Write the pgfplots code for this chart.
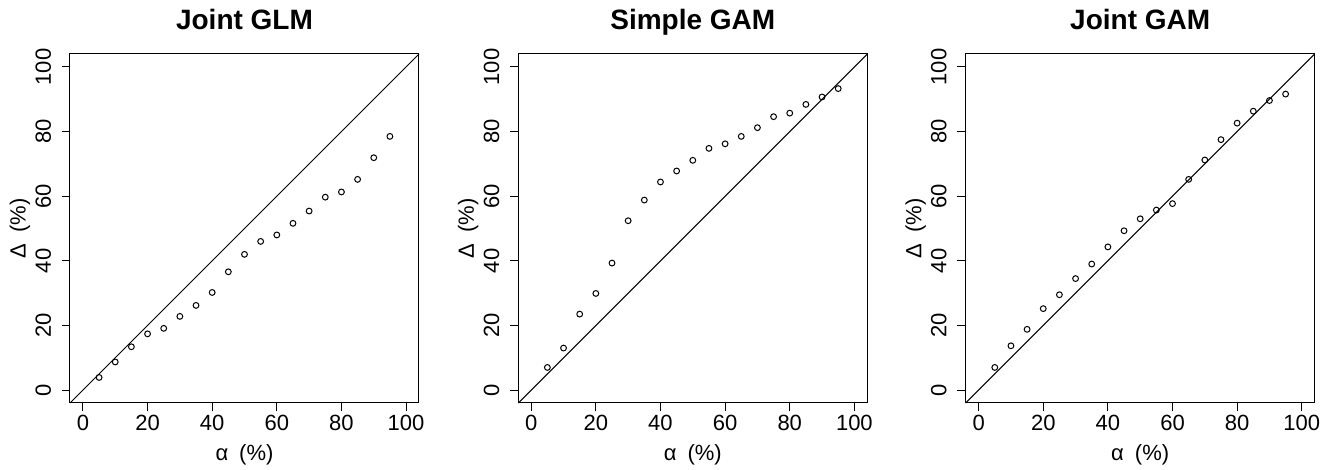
\documentclass[border=0pt]{standalone}
\usepackage{pgfplots}
\pgfplotsset{compat=1.18}
\usepackage{fontspec}
\setmainfont{Liberation Sans}
\pgfplotsset{
  rpanel/.style={
    scale only axis, width=174.5pt, height=174.5pt,
    anchor=south west,
    xmin=-4, xmax=104, ymin=-4, ymax=104,
    xtick={0,20,...,100}, ytick={0,20,...,100},
    xtick pos=left, ytick pos=left, tick align=outside,
    major tick length=4.2pt,
    axis line style={line width=0.5pt},
    every tick/.style={black, line width=0.5pt},
    /pgf/number format/assume math mode=true,
    tick label style={font=\fontsize{11}{13}\selectfont, inner sep=0pt},
    xticklabel style={anchor=north},
    yticklabel style={rotate=90, anchor=south},
    xticklabel shift=1.9pt,
    yticklabel shift=5.1pt,
    clip=false,
  },
  pts/.style={only marks, mark=o, mark size=1.45pt, mark options={line width=0.5pt}, black},
  diag/.style={black, line width=0.5pt, no marks},
}
\newcommand{\paneltext}[1]{%
  \node[font=\bfseries\fontsize{14}{16}\selectfont, anchor=base, inner sep=0pt]
    at ([yshift=12pt]rel axis cs:0.5,1) {#1};
  \node[font=\fontsize{11}{13}\selectfont, anchor=center, inner sep=0pt]
    at ([yshift=-26pt]rel axis cs:0.5,0) {α\hspace{0.5em}(\%)};
  \node[font=\fontsize{11}{13}\selectfont, anchor=center, inner sep=0pt, rotate=90]
    at ([xshift=-25pt]rel axis cs:0,0.5) {Δ\hspace{0.5em}(\%)};
}
\begin{document}
\begin{tikzpicture}
\path[use as bounding box] (0,0) rectangle (665pt,235pt);
\begin{axis}[rpanel, at={(35pt,33.5pt)}]
\addplot[diag] coordinates {(-4,-4) (104,104)};
\addplot[pts] coordinates {
(5,3.9) (10,8.7) (15,13.4) (20,17.4) (25,19.1) (30,22.8) (35,26.2) (40,30.2)
(45,36.6) (50,42.0) (55,46.0) (60,48.0) (65,51.6) (70,55.4) (75,59.7) (80,61.3)
(85,65.2) (90,71.9) (95,78.5)};
\paneltext{Joint GLM}
\end{axis}
\begin{axis}[rpanel, at={(259.15pt,33.5pt)}]
\addplot[diag] coordinates {(-4,-4) (104,104)};
\addplot[pts] coordinates {
(5,7.0) (10,13.0) (15,23.5) (20,29.9) (25,39.3) (30,52.4) (35,58.8) (40,64.4)
(45,67.8) (50,71.1) (55,74.8) (60,76.2) (65,78.5) (70,81.2) (75,84.6) (80,85.7)
(85,88.4) (90,90.7) (95,93.3)};
\paneltext{Simple GAM}
\end{axis}
\begin{axis}[rpanel, at={(482.85pt,33.5pt)}]
\addplot[diag] coordinates {(-4,-4) (104,104)};
\addplot[pts] coordinates {
(5,7.0) (10,13.7) (15,18.8) (20,25.2) (25,29.5) (30,34.5) (35,39.0) (40,44.3)
(45,49.3) (50,53.0) (55,55.7) (60,57.7) (65,65.2) (70,71.2) (75,77.5) (80,82.6)
(85,86.3) (90,89.6) (95,91.6)};
\paneltext{Joint GAM}
\end{axis}
\end{tikzpicture}
\end{document}
